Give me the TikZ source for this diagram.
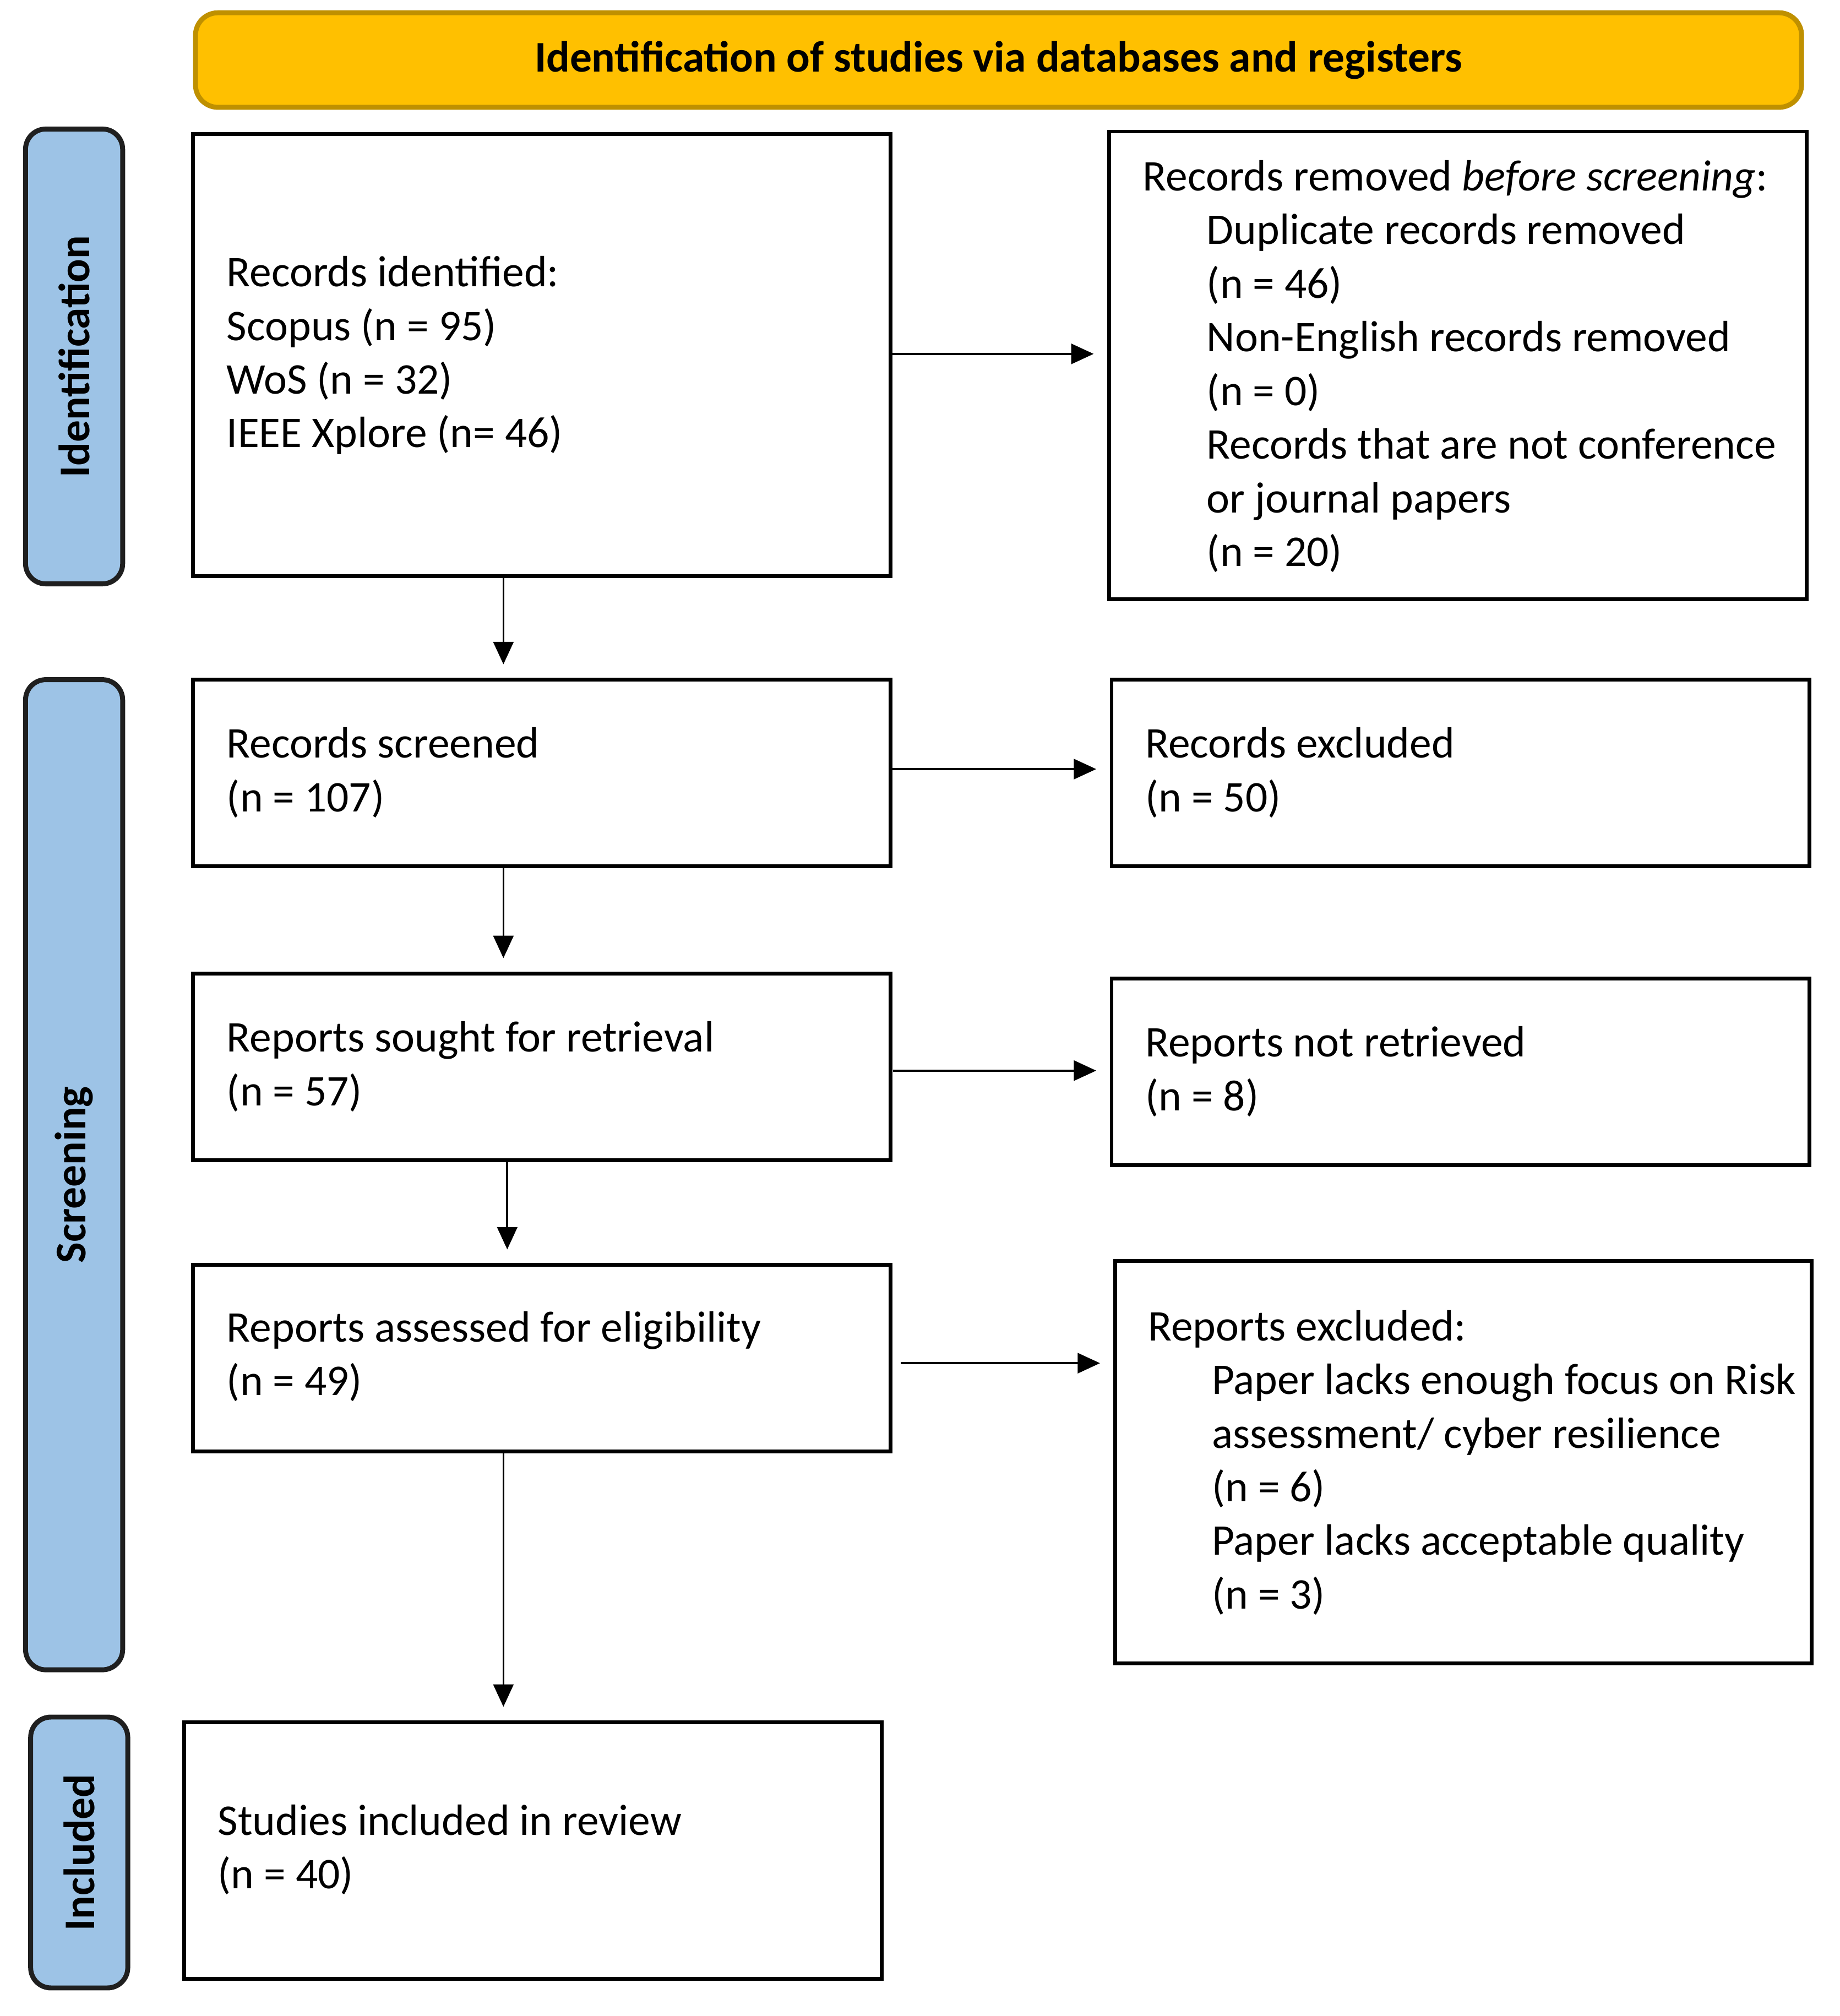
\documentclass[tikz,border=0pt]{standalone}
\usepackage{fontspec}
\setmainfont{Carlito}
\usetikzlibrary{arrows.meta,fit,positioning}
\definecolor{headfill}{HTML}{FFC000}
\definecolor{headline}{HTML}{BF9000}
\definecolor{sidefill}{HTML}{9DC3E6}
\definecolor{sideline}{HTML}{1F1F1F}
\begin{document}
\begin{tikzpicture}[x=0.02cm,y=-0.02cm,semithick,
  >={Triangle[length=10pt,width=9pt]},
  box/.style={draw=black, line width=1.7pt, inner sep=0pt},
  side/.style={draw=sideline, fill=sidefill, line width=2.2pt, rounded corners=9pt, inner sep=0pt},
  sidetext/.style={rotate=90, font=\fontsize{19.5}{24}\selectfont\bfseries},
  txt/.style={anchor=north west, align=left, inner sep=0pt, font=\fontsize{19.5}{23.9}\selectfont},
  flow/.style={->, line width=0.9pt, shorten >=6pt}]
 \useasboundingbox (0,0) rectangle (1440,1578);
 % header
 \node[draw=headline, fill=headfill, line width=2.2pt, rounded corners=10pt, inner sep=0pt,
   fit={(153,10) (1410,84)}] (head) {};
 \node[font=\fontsize{19.5}{24}\selectfont\bfseries] at (head.center) {Identification of studies via databases and registers};
 % side bars
 \node[side, fit={(20,101) (96,457)}] (sideid) {};
 \node[sidetext] at (sideid.center) {Identification};
 \node[side, fit={(20,532) (96,1307)}] (sidescr) {};
 \node[sidetext] at (sidescr.center) {Screening};
 \node[side, fit={(24,1344) (100,1556)}] (sideinc) {};
 \node[sidetext] at (sideinc.center) {Included};
 % boxes
 \node[box, fit={(151,105) (697,451)}] (ident) {};
 \node[box, fit={(868,103) (1414,469)}] (removed) {};
 \node[box, fit={(151,532) (697,678)}] (screened) {};
 \node[box, fit={(870,532) (1416,678)}] (excluded) {};
 \node[box, fit={(151,762) (697,908)}] (sought) {};
 \node[box, fit={(870,766) (1416,912)}] (notret) {};
 \node[box, fit={(151,990) (697,1136)}] (assessed) {};
 \node[box, fit={(873,987) (1418,1302)}] (repexcl) {};
 \node[box, fit={(144,1348) (690,1549)}] (included) {};
 % texts
 \node[txt] at (177,200) {Records identified:\\Scopus (n = 95)\\WoS (n = 32)\\IEEE Xplore (n= 46)};
 \node[txt] at (894,125) {Records removed \textit{before screening}:};
 \node[txt] at (944,167) {Duplicate records removed\\(n = 46)\\Non-English records removed\\(n = 0)\\Records that are not conference\\or journal papers\\(n = 20)};
 \node[txt] at (177,569) {Records screened\\(n = 107)};
 \node[txt] at (896,569) {Records excluded\\(n = 50)};
 \node[txt] at (177,799) {Reports sought for retrieval\\(n = 57)};
 \node[txt] at (896,803) {Reports not retrieved\\(n = 8)};
 \node[txt] at (177,1026) {Reports assessed for eligibility\\(n = 49)};
 \node[txt] at (898,1025) {Reports excluded:};
 \node[txt] at (948,1067) {Paper lacks enough focus on Risk\\assessment/ cyber resilience\\(n = 6)\\Paper lacks acceptable quality\\(n = 3)};
 \node[txt] at (170,1412) {Studies included in review\\(n = 40)};
 % arrows
 \coordinate (a1) at (697,277);
 \draw[flow] (a1) -- (a1 -| removed.west);
 \coordinate (a2) at (394,451);
 \draw[flow] (a2) -- (a2 |- screened.north);
 \coordinate (a3) at (697,602);
 \draw[flow] (a3) -- (a3 -| excluded.west);
 \coordinate (a4) at (394,678);
 \draw[flow] (a4) -- (a4 |- sought.north);
 \coordinate (a5) at (699,838);
 \draw[flow] (a5) -- (a5 -| notret.west);
 \coordinate (a6) at (397,908);
 \draw[flow] (a6) -- (a6 |- assessed.north);
 \coordinate (a7) at (705,1067);
 \draw[flow] (a7) -- (a7 -| repexcl.west);
 \coordinate (a8) at (394,1136);
 \draw[flow] (a8) -- (a8 |- included.north);
\end{tikzpicture}
\end{document}
